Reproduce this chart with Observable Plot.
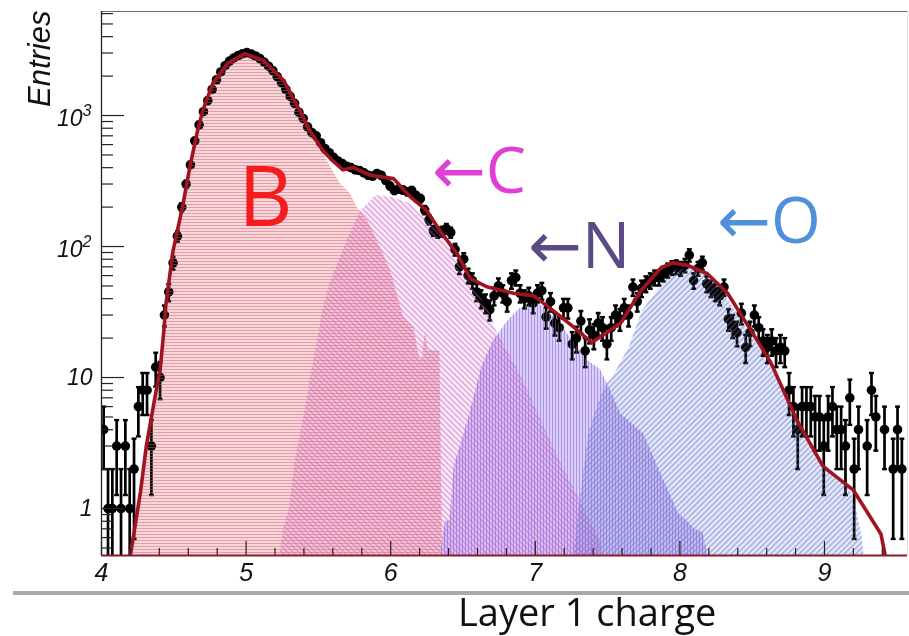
<!DOCTYPE html>
<html><head><meta charset="utf-8">
<script src="https://cdn.jsdelivr.net/npm/d3@7"></script>
<script src="https://cdn.jsdelivr.net/npm/@observablehq/plot@0.6"></script>
<style>
body{margin:0;background:#fff;width:909px;height:636px;overflow:hidden;position:relative;}
#chart{position:absolute;left:0;top:0;}
#rule{position:absolute;left:13px;top:591px;width:896px;height:4px;background:#a9a9a9;}
#cap{position:absolute;left:458px;top:592px;font-family:"Open Sans","Noto Sans",sans-serif;font-size:38px;line-height:1;color:#111;white-space:nowrap;}
</style></head><body>
<div id="chart"></div><div id="rule"></div><div id="cap">Layer 1 charge</div>
<script>
// ---- data ----
const binStart = 4.0;
const binWidth = 0.03;
const counts = [
  4,1,1,3,1,3,1,2,6,8,8,3,12,10,
  30,45,75,120,200,300,420,640,850,1070,1300,1580,1870,2150,2400,2600,2750,2870,2960,3020,2950,2850,2720,2560,2380,2200,1980,1780,1580,1400,1240,1060,
  950,820,740,700,620,560,520,480,450,430,410,400,385,380,365,350,345,360,350,320,290,268,275,270,262,268,245,232,190,160,132,128,
  130,137,128,95,70,80,60,55,45,40,37,33,42,50,44,38,55,58,44,40,42,37,44,46,29,38,26,24,34,34,18,20,
  27,16,23,21,26,24,18,24,30,28,34,30,49,38,48,52,55,58,58,62,66,69,70,68,72,86,55,68,75,52,48,45,
  42,49,28,25,22,31,17,22,30,24,19,17,19,16,17,16,8,6,4,6,6,6,5,5,3,5,6,4,4,3,7,2,
  4,0,3,8,5,0,4,0,2,4,2,0
];
const fitX = [4.19,4.20,4.27,4.31,4.37,4.405,4.43,4.445,4.495,4.56,4.61,4.66,4.70,4.77,4.87,4.99,5.12,5.26,5.37,5.44,5.53,5.60,5.67,5.74,5.86,6.02,6.14,6.25,6.34,6.46,6.55,6.67,6.85,6.99,7.13,7.27,7.39,7.59,7.73,7.87,7.95,8.05,8.19,8.33,8.49,8.63,8.81,8.99,9.20,9.39,9.45];
const fitY = [0.3,0.44,1.35,3.0,7.1,11.4,22,36,93,200,400,730,1090,1760,2490,2970,2630,1850,1100,770,540,450,385,400,350,330,237,188,132,88,57,49,44,42,32,24,18.5,26,46,69,75,72,62,44,23,12.9,4.7,2.1,1.38,0.64,0.3];
const bX = [4.19,4.20,4.27,4.31,4.37,4.405,4.43,4.445,4.495,4.56,4.61,4.66,4.70,4.77,4.87,4.99,5.12,5.26,5.37,5.44,5.53,5.65,5.72,5.77,5.84,5.93,6.00,6.05,6.09,6.16,6.20,6.22,6.24,6.26,6.29,6.34,6.36];
const bY = [0.3,0.44,1.35,3.0,7.1,11.4,22,36,93,200,400,730,1090,1760,2490,2970,2630,1850,1100,770,520,303,254,198,158,98,65,41,29,24,14,14,22,16,16,16,0.3];
const cX = [5.22,5.24,5.26,5.30,5.34,5.40,5.44,5.49,5.53,5.58,5.70,5.79,5.90,6.01,6.13,6.25,6.34,6.46,6.57,6.67,6.74,6.90,7.04,7.17,7.31,7.45,7.50];
const cY = [0.3,0.5,0.7,1.0,2.3,5.0,9.0,18,32,52,111,185,245,237,213,158,126,78,49,34,21.6,10.4,4.7,2.3,1.15,0.55,0.3];
const nX = [6.34,6.36,6.38,6.41,6.44,6.54,6.63,6.71,6.81,6.90,7.02,7.10,7.19,7.26,7.36,7.45,7.52,7.59,7.75,7.85,7.99,8.05,8.10,8.16,8.19,8.21];
const nY = [0.3,0.6,0.8,0.8,2.1,4.9,12,19,27,34,37,31,24,19,13.5,11.5,8,5.3,3.7,2.05,0.92,0.8,0.7,0.65,0.45,0.3];
const oX = [7.25,7.27,7.31,7.37,7.47,7.55,7.65,7.74,7.86,7.97,8.09,8.21,8.32,8.44,8.56,8.67,8.81,8.99,9.17,9.22,9.26,9.29];
const oY = [0.3,0.45,1.15,3.7,8.0,10.7,17,32,48,66,68,58,41,26,16,10,5,2.2,1.47,1.0,0.6,0.3];
const xTicks = [4,5,6,7,8,9];
const yTicksPlain = [1,10];
const yTicksPow = [100,1000];
const yPowExp = ["2","3"];
const yMinor = [0.5,0.6,0.7,0.8,0.9,2,3,4,5,6,7,8,9,20,30,40,50,60,70,80,90,200,300,400,500,600,700,800,900,2000,3000,4000,5000,6000];
const annot = [
  {text:"B",  x:4.945, y:144},
  {text:"\u2190C", x:6.287, y:254},
  {text:"\u2190N", x:6.952, y:68},
  {text:"\u2190O", x:8.259, y:107}
];
const xDomain = [4, 9.574];
const yDomain = [0.438, 6224];

// ---- build ----
const floorVal = 0.3;
const W = 909, H = 590, mL = 101, mR = 2, mT = 11, mB = 35;
const fw = W - mL - mR, fh = H - mT - mB;
const pts = counts.map((n, i) => ({x: binStart + binWidth * (i + 0.5), n}))
  .filter(d => d.n > 0)
  .map(d => ({...d, hi: d.n + Math.sqrt(d.n), lo: Math.max(d.n - Math.sqrt(d.n), floorVal)}));
const zip = (xs, ys) => xs.map((x, i) => ({x, y: ys[i]}));
const xMinor = d3.range(4, 9.58, 0.2).map(v => +v.toFixed(2)).filter(v => !xTicks.includes(v));
const area = (xs, ys, id, op = 1) => Plot.areaY(zip(xs, ys), {x: "x", y1: () => floorVal, y2: "y", fill: `url(#${id})`, fillOpacity: op, clip: true});
const annFont = "'Open Sans','Noto Sans','DejaVu Sans',sans-serif";
const tickFont = "'Liberation Sans',Arial,sans-serif";
const allYTicks = [...yTicksPlain, ...yTicksPow];

const svg = Plot.plot({
  width: W, height: H,
  marginLeft: mL, marginRight: mR, marginTop: mT, marginBottom: mB,
  x: {domain: xDomain, axis: null},
  y: {type: "log", domain: yDomain, axis: null},
  style: {background: "white", overflow: "visible"},
  marks: [
    area(bX, bY, "hB"),
    area(cX, cY, "hC"),
    area(nX, nY, "hN"),
    area(oX, oY, "hO"),
    Plot.ruleX(pts, {x: "x", y1: "lo", y2: "hi", stroke: "#000", strokeWidth: 2.7, clip: true}),
    Plot.link(pts, {x1: d => d.x - 0.017, x2: d => d.x + 0.017, y1: "hi", y2: "hi", stroke: "#000", strokeWidth: 2.4, clip: true}),
    Plot.link(pts.filter(d => d.lo > floorVal), {x1: d => d.x - 0.017, x2: d => d.x + 0.017, y1: "lo", y2: "lo", stroke: "#000", strokeWidth: 2.4, clip: true}),
    Plot.dot(pts, {x: "x", y: "n", r: 4.8, fill: "#000", stroke: "none", clip: true}),
    // hatch lines of the templates drawn over the data (tints covered points)
    area(bX, bY, "lB", 0.4),
    area(cX, cY, "lC", 0.4),
    area(nX, nY, "lN", 0.4),
    area(oX, oY, "lO", 0.4),
    Plot.line(zip(fitX, fitY), {x: "x", y: "y", stroke: "#a01422", strokeWidth: 3.6, clip: true, strokeLinejoin: "round"}),
    // frame
    Plot.ruleY([yDomain[1]], {stroke: "#6b6b6b", strokeWidth: 1.2}),
    Plot.ruleX([xDomain[1]], {stroke: "#f2d8d8", strokeWidth: 1}),
    Plot.ruleY([yDomain[0]], {stroke: "#8c1a28", strokeWidth: 2}),
    Plot.ruleX([xDomain[0]], {stroke: "#222", strokeWidth: 1.3}),
    // ticks (ROOT style, inside the frame)
    Plot.tickX(xTicks, {x: d => d, insetTop: fh - 14, stroke: "#222", strokeWidth: 1.2}),
    Plot.tickX(xMinor, {x: d => d, insetTop: fh - 7, stroke: "#222", strokeWidth: 1.2}),
    Plot.tickY(allYTicks, {y: d => d, insetRight: fw - 23, stroke: "#222", strokeWidth: 1.2}),
    Plot.tickY(yMinor, {y: d => d, insetRight: fw - 12, stroke: "#222", strokeWidth: 1.2}),
    Plot.axisX({ticks: xTicks, tickSize: 0, tickPadding: 8, tickFormat: d => String(d), fontSize: 25, fontStyle: "italic", fontFamily: tickFont, fill: "#111", label: null}),
    Plot.axisY({ticks: yTicksPlain, tickSize: 0, tickPadding: 9, tickFormat: d => String(d), fontSize: 23, fontStyle: "italic", fontFamily: tickFont, fill: "#111", label: null}),
    Plot.axisY({ticks: yTicksPow, tickSize: 0, tickPadding: 19, tickFormat: () => "10", dy: 3, fontSize: 23, fontStyle: "italic", fontFamily: tickFont, fill: "#111", label: null}),
    Plot.text(yTicksPow, {y: d => d, frameAnchor: "left", text: (d, i) => yPowExp[i], textAnchor: "end", dx: -10, dy: -5, fontSize: 16, fontStyle: "italic", fontFamily: tickFont, fill: "#111"}),
    Plot.text(["Entries"], {frameAnchor: "top-left", text: d => d, rotate: -90, textAnchor: "end", dx: -74, dy: -1, fontSize: 31, fontStyle: "italic", fontFamily: tickFont, fill: "#111"}),
    // annotations
    Plot.text([annot[0]], {x: "x", y: "y", text: "text", textAnchor: "start", lineAnchor: "bottom", fontSize: 84, fontFamily: annFont, fill: "#f41c1c"}),
    Plot.text([annot[1]], {x: "x", y: "y", text: "text", textAnchor: "start", lineAnchor: "bottom", fontSize: 64, fontFamily: annFont, fill: "#e03fd6"}),
    Plot.text([annot[2]], {x: "x", y: "y", text: "text", textAnchor: "start", lineAnchor: "bottom", fontSize: 64, fontFamily: annFont, fill: "#5b4a85"}),
    Plot.text([annot[3]], {x: "x", y: "y", text: "text", textAnchor: "start", lineAnchor: "bottom", fontSize: 64, fontFamily: annFont, fill: "#4f8fdc"})
  ]
});

const defs = `
<pattern id="hB" patternUnits="userSpaceOnUse" width="8" height="3">
  <rect width="8" height="3" fill="#f9d6da"/>
  <rect y="0" width="8" height="1" fill="#e8acb5"/>
</pattern>
<pattern id="hC" patternUnits="userSpaceOnUse" width="4" height="4" patternTransform="rotate(-45)">
  <rect width="4" height="4" fill="#fdf0fb"/>
  <rect width="1.4" height="4" fill="#e8b0e2"/>
</pattern>
<pattern id="hN" patternUnits="userSpaceOnUse" width="3" height="8">
  <rect width="3" height="8" fill="#ddd0f8"/>
  <rect width="1" height="8" fill="#b49cec"/>
</pattern>
<pattern id="hO" patternUnits="userSpaceOnUse" width="4" height="4" patternTransform="rotate(45)">
  <rect width="4" height="4" fill="#e8ebf9"/>
  <rect width="1.4" height="4" fill="#aeb8e6"/>
</pattern>
<pattern id="lB" patternUnits="userSpaceOnUse" width="8" height="3">
  <rect y="0" width="8" height="1" fill="#d88898"/>
</pattern>
<pattern id="lC" patternUnits="userSpaceOnUse" width="4" height="4" patternTransform="rotate(-45)">
  <rect width="1.4" height="4" fill="#d88ad2"/>
</pattern>
<pattern id="lN" patternUnits="userSpaceOnUse" width="3" height="8">
  <rect width="1" height="8" fill="#9c80e4"/>
</pattern>
<pattern id="lO" patternUnits="userSpaceOnUse" width="4" height="4" patternTransform="rotate(45)">
  <rect width="1.4" height="4" fill="#8c98da"/>
</pattern>`;
d3.select(svg).insert("defs", ":first-child").html(defs);
d3.select(svg).selectAll('g[aria-label="area"]').each(function(d, i) {
  if (i < 4) d3.select(this).style("mix-blend-mode", "multiply");
});
document.getElementById("chart").appendChild(svg);
</script>
</body></html>
